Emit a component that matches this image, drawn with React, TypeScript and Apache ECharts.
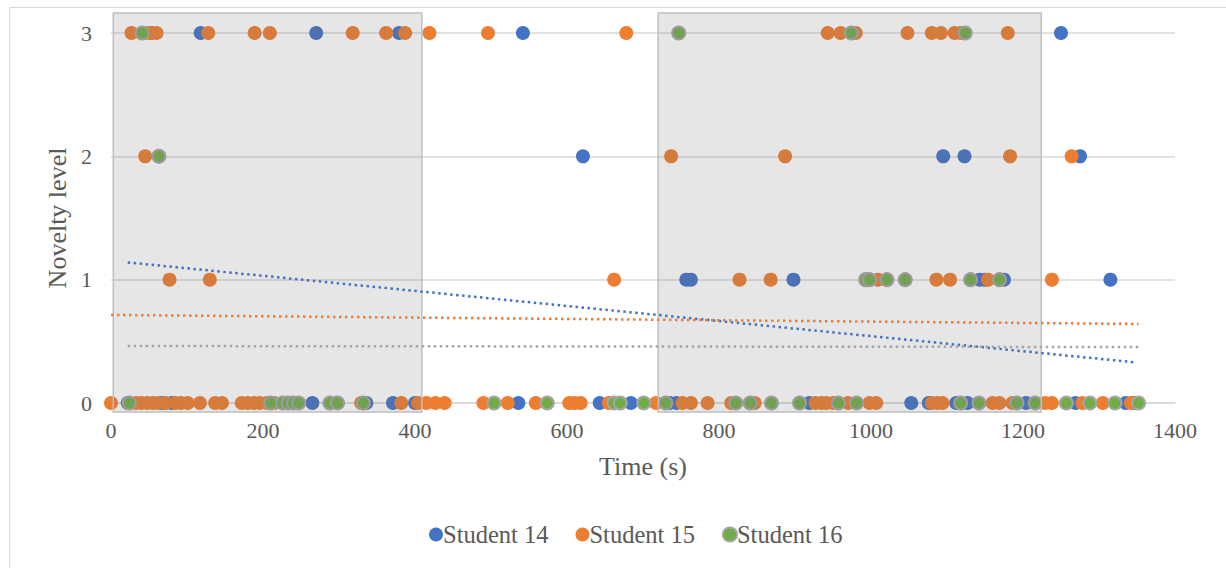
import React, { useEffect, useRef } from "react";
import * as echarts from "echarts";

// ---------- data (time in s, novelty level) ----------
const seriesNames = ["Student 14", "Student 15", "Student 16"];
const seriesColors = ["#4472C4", "#ED7D31", "#70AD47"];

const s14Level3 = [53, 118, 270, 379, 542, 1250];
const s14Level2 = [621, 1095, 1123, 1275];
const s14Level1 = [757, 763, 898, 1143, 1150, 1175, 1315];
const s14Level0 = [22, 67, 80, 265, 336, 371, 400, 536, 643, 684, 735, 744, 919, 1053, 1076, 1112, 1127, 1204, 1269, 1335, 1347];

const s15Level3 = [27, 45, 52, 60, 128, 189, 209, 318, 362, 387, 419, 496, 678, 943, 960, 980, 1048, 1080, 1092, 1110, 1118, 1180];
const s15Level2 = [45, 737, 887, 1183, 1264];
const s15Level1 = [77, 130, 662, 827, 868, 1009, 1086, 1104, 1154, 1238];
const s15Level0 = [0, 33, 40, 48, 55, 62, 72, 85, 92, 101, 117, 137, 146, 172, 180, 188, 196, 205, 215, 329, 382, 404, 415, 427, 439, 490, 522, 559, 603, 610, 618, 655, 717, 752, 763, 785, 816, 847, 927, 935, 941, 950, 970, 998, 1007, 1080, 1087, 1094, 1160, 1169, 1186, 1229, 1238, 1278, 1305, 1342, 1352];

const s16Level3 = [41, 747, 974, 1124];
const s16Level2 = [63];
const s16Level1 = [993, 998, 1021, 1045, 1131, 1169];
const s16Level0 = [24, 210, 226, 233, 240, 247, 288, 298, 332, 504, 574, 662, 670, 701, 730, 822, 841, 869, 906, 957, 981, 1118, 1142, 1192, 1216, 1257, 1288, 1321, 1352];

// linear trend lines (start / end)
const trend14 = [[22, 1.14], [1347, 0.33]];
const trend15 = [[0, 0.714], [1352, 0.641]];
const trend16 = [[22, 0.462], [1352, 0.454]];
const trendColors = ["#4472C4", "#ED7D31", "#A5A5A5"];

// shaded periods (time ranges) and their vertical extent in level units
const shadedPeriods = [[3, 409], [720, 1224]];
const shadedLevelTop = 3.162;
const shadedLevelBottom = -0.073;

const xTicks = { min: 0, max: 1400, interval: 200 };
const yTicks = { min: 0, max: 3, interval: 1 };

function pairs(levels: number[][]) {
  const out: number[][] = [];
  levels.forEach((times, i) => {
    const level = 3 - i;
    times.forEach((t) => out.push([t, level]));
  });
  return out;
}

const s14Data = pairs([s14Level3, s14Level2, s14Level1, s14Level0]);
const s15Data = pairs([s15Level3, s15Level2, s15Level1, s15Level0]);
const s16Data = pairs([s16Level3, s16Level2, s16Level1, s16Level0]);

const FONT = "'Liberation Serif', 'Times New Roman', serif";
const TEXT = "#595959";

export default function App() {
  const ref = useRef<HTMLDivElement>(null);
  useEffect(() => {
    if (!ref.current) return;
    const chart = echarts.init(ref.current, undefined, { renderer: "svg" });
    const scatter = (name: string, data: number[][], color: string, border?: string) => ({
      name,
      type: "scatter",
      data,
      symbol: "circle",
      symbolSize: border ? 13 : 14,
      z: 2,
      itemStyle: {
        color,
        opacity: 1,
        borderColor: border || color,
        borderWidth: border ? 2 : 0,
      },
      emphasis: { disabled: true },
    });
    const trend = (data: number[][], color: string) => ({
      type: "line",
      data,
      symbol: "none",
      silent: true,
      z: 4,
      lineStyle: { color, width: 2.5, type: [2.5, 3.5], cap: "butt" },
    });
    chart.setOption({
      animation: false,
      backgroundColor: "#ffffff",
      textStyle: { fontFamily: FONT },
      graphic: [
        {
          type: "rect",
          left: 7,
          top: 5,
          shape: { width: 1240, height: 580 },
          style: { fill: "none", stroke: "#d9d9d9", lineWidth: 1 },
          silent: true,
        },
      ],
      grid: { left: 111, right: 51, top: 33, bottom: 165 },
      legend: {
        data: seriesNames.map((n) => ({ name: n, icon: "circle" })),
        top: 517,
        left: 424,
        itemWidth: 14,
        itemHeight: 14,
        itemGap: 27,
        textStyle: { fontSize: 24.5, color: TEXT, fontFamily: FONT, padding: [0, 0, 0, -5] },
      },
      xAxis: {
        type: "value",
        min: xTicks.min,
        max: xTicks.max,
        interval: xTicks.interval,
        name: "Time (s)",
        nameLocation: "middle",
        nameGap: 50,
        nameTextStyle: { fontSize: 26, color: TEXT, fontFamily: FONT },
        axisLine: { show: true, lineStyle: { color: "#d9d9d9", width: 1.5 } },
        axisTick: { show: false },
        splitLine: { show: false },
        axisLabel: {
          fontSize: 22,
          color: TEXT,
          fontFamily: FONT,
          margin: 16,
          formatter: (v: number) => String(v),
        },
      },
      yAxis: {
        type: "value",
        min: yTicks.min,
        max: yTicks.max,
        interval: yTicks.interval,
        name: "Novelty level",
        nameLocation: "middle",
        nameGap: 40,
        nameTextStyle: { fontSize: 26, color: TEXT, fontFamily: FONT },
        axisLine: { show: false },
        axisTick: { show: false },
        splitLine: { show: true, lineStyle: { color: "#d9d9d9", width: 1.5 } },
        axisLabel: { fontSize: 22, color: TEXT, fontFamily: FONT, margin: 19 },
      },
      series: [
        scatter(seriesNames[0], s14Data, seriesColors[0]),
        scatter(seriesNames[1], s15Data, seriesColors[1]),
        scatter(seriesNames[2], s16Data, seriesColors[2], "#A5A5A5"),
        {
          type: "custom",
          silent: true,
          clip: false,
          z: 3,
          data: shadedPeriods,
          encode: { x: [0, 1] },
          renderItem: (_params: any, api: any) => {
            const p0 = api.coord([api.value(0), shadedLevelTop]);
            const p1 = api.coord([api.value(1), shadedLevelBottom]);
            return {
              type: "rect",
              shape: { x: p0[0], y: p0[1], width: p1[0] - p0[0], height: p1[1] - p0[1] },
              style: { fill: "rgba(115,115,115,0.18)", stroke: "#bfbfbf", lineWidth: 1.5 },
            };
          },
        },
        trend(trend14, trendColors[0]),
        trend(trend15, trendColors[1]),
        trend(trend16, trendColors[2]),
      ],
    });
    return () => chart.dispose();
  }, []);
  return (
    <div
      ref={ref}
      style={{ position: "fixed", left: 0, top: 0, width: 1226, height: 568 }}
    />
  );
}
